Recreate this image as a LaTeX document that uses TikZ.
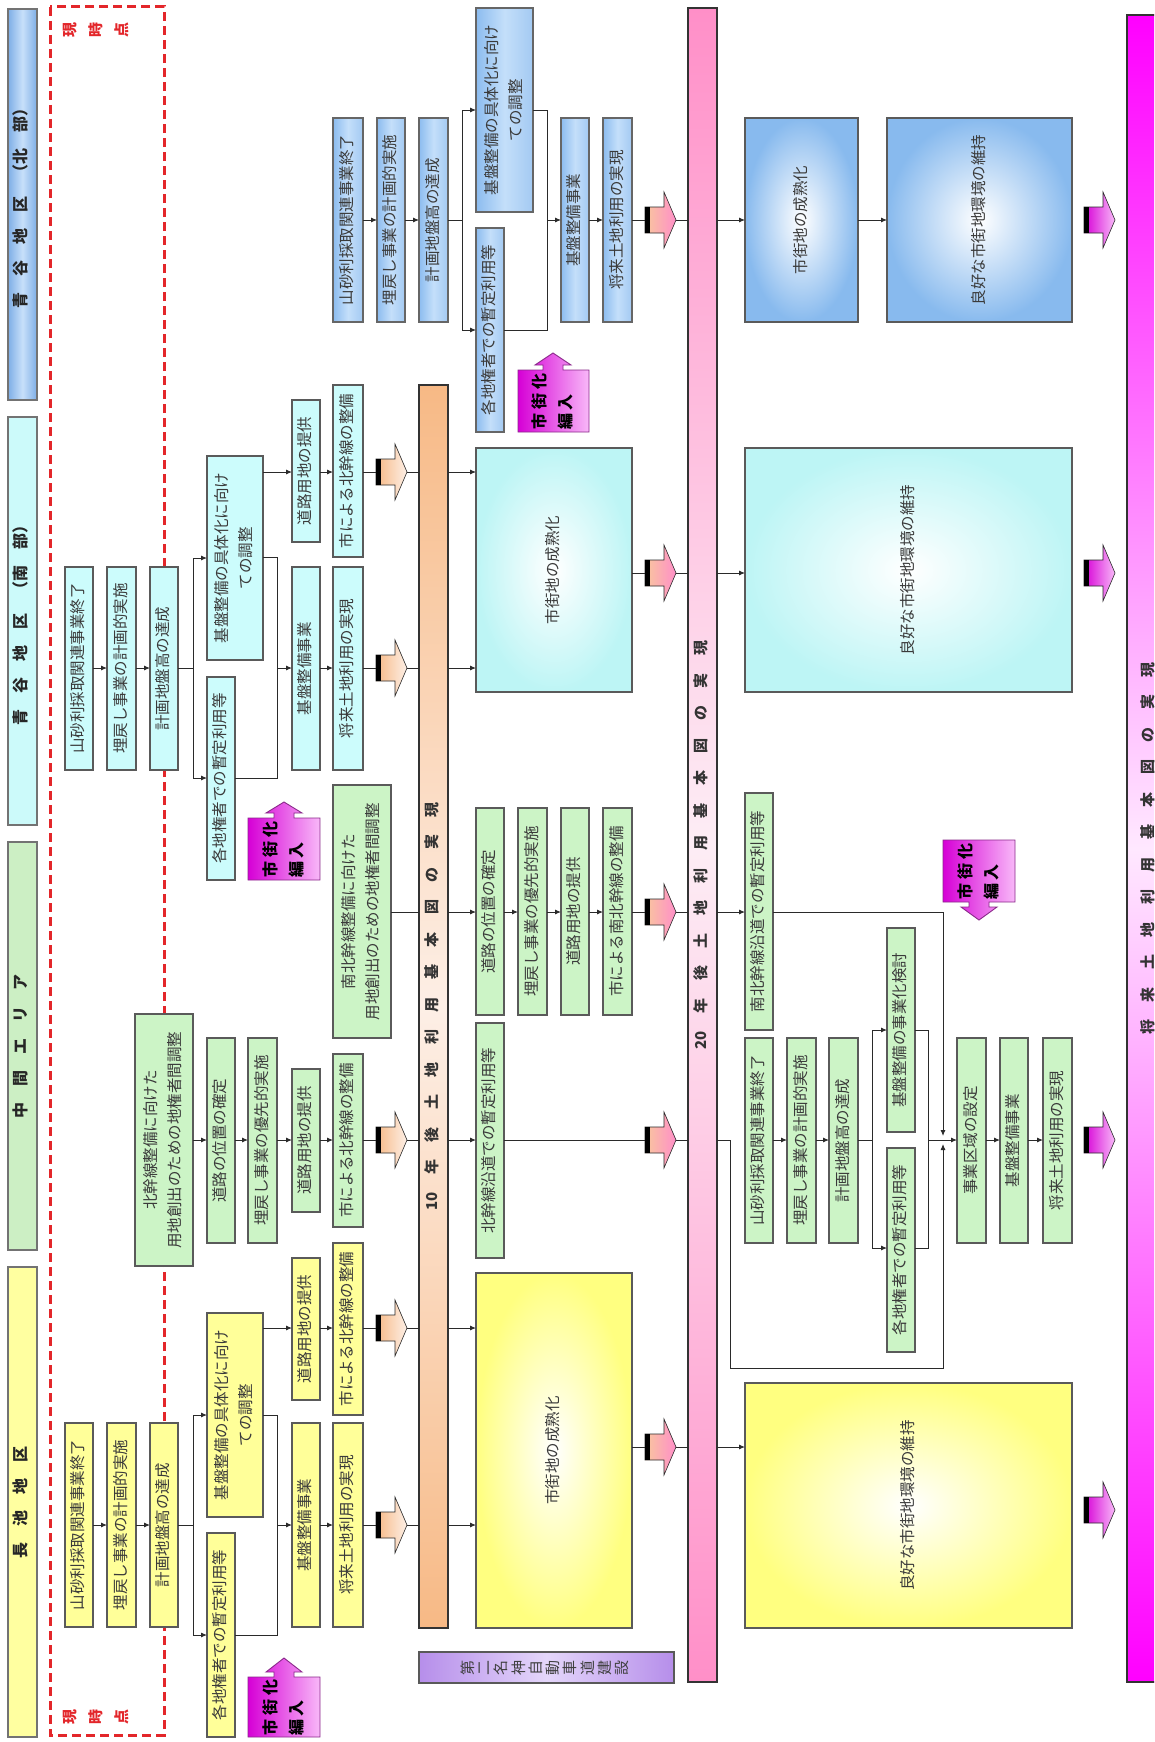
\documentclass[tikz,border=0pt]{standalone}
\usepackage{fontspec}
\setmainfont{Noto Sans CJK JP}
\usepackage{graphicx}
\usetikzlibrary{arrows.meta}

\definecolor{bdr}{HTML}{5A5A5A}
\definecolor{txt}{HTML}{3A3A3A}
\definecolor{lnC}{HTML}{2A2A2A}
\definecolor{bluD}{HTML}{8CBCEF}
\definecolor{bluM}{HTML}{C4DFFA}
\definecolor{bluBig}{HTML}{88BAEE}
\definecolor{cyaF}{HTML}{CCFCFC}
\definecolor{cyaBig}{HTML}{BDF5F5}
\definecolor{greF}{HTML}{CCF4C6}
\definecolor{yelF}{HTML}{FFFF99}
\definecolor{yelBig}{HTML}{FFFF80}
\definecolor{orgD}{HTML}{F7B985}
\definecolor{orgL}{HTML}{FDEFE6}
\definecolor{pnkD}{HTML}{FF8FC8}
\definecolor{pnkL}{HTML}{FDEDF5}
\definecolor{magD}{HTML}{FF00FF}
\definecolor{magL}{HTML}{FFE8FF}
\definecolor{purD}{HTML}{B68EEA}
\definecolor{purL}{HTML}{E4D6FA}
\definecolor{dred}{HTML}{E3262A}
\definecolor{calD}{HTML}{D600D6}
\definecolor{calL}{HTML}{F8B8F8}
\definecolor{calB}{HTML}{8A2A8A}
\definecolor{hbD}{HTML}{7EAEE6}
\definecolor{hbL}{HTML}{C8E0FA}
\definecolor{hcF}{HTML}{CCFAFA}
\definecolor{hgF}{HTML}{CCEFC4}
\definecolor{hyF}{HTML}{FFFFA0}

\newcommand\rtxt[1]{\rotatebox{90}{\begin{tabular}{@{}c@{}}#1\end{tabular}}}
\newcommand\rtxtl[1]{\rotatebox{90}{\begin{tabular}{@{}l@{}}#1\end{tabular}}}
\newcommand\hsp{\hspace{16pt}}
\newcommand\hsb{\hspace{17.5pt}}
\newcommand\bx[7]{%
 \pgfmathsetmacro\bxw{#5-#3}\pgfmathsetmacro\bxh{#6-#4}%
 \pgfmathsetmacro\bxcx{(#3+#5)/2}\pgfmathsetmacro\bxcy{(#4+#6)/2}%
 \node[#1,minimum width=\bxw pt,minimum height=\bxh pt] (#2) at (\bxcx,\bxcy) {#7};}
\newcommand\blk[4]{%
 \path[draw=lnC, line width=0.6pt, left color=#3, right color=#4] (#1,#2-13) -- ++(19,0) -- ++(0,-15) -- ++(12,28) -- ++(-12,28) -- ++(0,-15) -- ++(-19,0) -- cycle;
 \fill[black] (#1,#2-13) rectangle ++(5,26);}
\newcommand\callup[6]{%
 \path[draw=calB, line width=0.9pt, left color=calD, right color=calL] (#1,#4) -- (#1,#2) -- (#5-10,#2) -- (#5-10,#2-5) -- (#5-18,#2-5) -- (#5,#6) -- (#5+18,#2-5) -- (#5+10,#2-5) -- (#5+10,#2) -- (#3,#2) -- (#3,#4) -- cycle;}
\newcommand\calldn[6]{%
 \path[draw=calB, line width=0.9pt, left color=calD, right color=calL] (#1,#2) -- (#3,#2) -- (#3,#4) -- (#5+10,#4) -- (#5+10,#4+5) -- (#5+18,#4+5) -- (#5,#6) -- (#5-18,#4+5) -- (#5-10,#4+5) -- (#5-10,#4) -- (#1,#4) -- cycle;}

\begin{document}
\begin{tikzpicture}[x=1pt,y=-1pt,
  sb/.style={draw=bdr, line width=1.2pt, inner sep=0pt, outer sep=0pt, text=txt, font=\fontsize{15.5}{24}\selectfont},
  bb/.style={sb, draw=black!60, left color=bluD, right color=bluD!80!white, middle color=bluM},
  cb/.style={sb, fill=cyaF},
  gb/.style={sb, fill=greF},
  yb/.style={sb, fill=yelF},
  bbig/.style={sb, inner color=white, outer color=bluBig},
  cbig/.style={sb, inner color=white, outer color=cyaBig},
  ybig/.style={sb, inner color=white, outer color=yelBig},
  hdr/.style={draw=black!55, line width=2pt, inner sep=0pt, outer sep=0pt, text=black!85, font=\fontsize{16}{20}\selectfont\bfseries},
  bar/.style={draw=black!80, line width=1.4pt, inner sep=0pt, outer sep=0pt, text=black!80, font=\fontsize{15}{18}\selectfont\bfseries},
  cal/.style={inner sep=0pt, text=black, font=\fontsize{16}{26}\selectfont\bfseries},
  arr/.style={-{Latex[length=6pt,width=5pt]}, line width=0.9pt, draw=lnC},
  ln/.style={line width=0.9pt, draw=lnC}]
\useasboundingbox (0,0) rectangle (1154,1742);
\clip (0,0) rectangle (1154,1742);
\fill[white] (0,0) rectangle (1154,1742);

% current-time frame
\draw[dred, line width=3pt, dash pattern=on 9pt off 5pt] (50,7) rectangle (164,1735);
\node[font=\fontsize{15}{26}\selectfont\bfseries, text=dred] (now1) at (96,30) {\rtxt{現\\時\\点}};
\node[font=\fontsize{15}{26}\selectfont\bfseries, text=dred] (now2) at (96,1717) {\rtxt{現\\時\\点}};

% headers
\bx{hdr, left color=hbD, right color=hbD, middle color=hbL}{h1}{8}{9}{37}{400}{\rtxt{青\hsp 谷\hsp 地\hsp 区\hsp （北\hsp 部）}}
\bx{hdr, fill=hcF}{h2}{8}{417}{37}{825}{\rtxt{青\hsp 谷\hsp 地\hsp 区\hsp （南\hsp 部）}}
\bx{hdr, fill=hgF}{h3}{8}{842}{37}{1250}{\rtxt{中\hsp 間\hsp エ\hsp リ\hsp ア}}
\bx{hdr, fill=hyF}{h4}{8}{1267}{37}{1737}{\rtxt{長\hsp 池\hsp 地\hsp 区}}

% bars
\bx{bar, top color=orgD, bottom color=orgD, middle color=orgL}{bar10}{419}{385}{448}{1628}{\rtxt{10\hsb 年\hsb 後\hsb 土\hsb 地\hsb 利\hsb 用\hsb 基\hsb 本\hsb 図\hsb の\hsb 実\hsb 現}}
\bx{bar, top color=pnkD, bottom color=pnkD, middle color=pnkL}{bar20}{688}{8}{717}{1682}{\rtxt{20\hsb 年\hsb 後\hsb 土\hsb 地\hsb 利\hsb 用\hsb 基\hsb 本\hsb 図\hsb の\hsb 実\hsb 現}}
\bx{bar, top color=magD, bottom color=magD, middle color=magL}{barF}{1127}{15}{1172}{1682}{\rtxt{将\hsb 来\hsb 土\hsb 地\hsb 利\hsb 用\hsb 基\hsb 本\hsb 図\hsb の\hsb 実\hsb 現}}
\bx{sb, draw=black!65, left color=purD, right color=purD, middle color=purL, text=black!75, font=\fontsize{15}{15.8}\selectfont}{p1}{419}{1652}{674}{1683}{\rtxt{第\\二\\名\\神\\自\\動\\車\\道\\建\\設}}

% blue column
\bx{bb}{b1}{333}{118}{363}{322}{\rtxt{山砂利採取関連事業終了}}
\bx{bb}{b2}{377}{118}{405}{322}{\rtxt{埋戻し事業の計画的実施}}
\bx{bb}{b3}{419}{118}{448}{322}{\rtxt{計画地盤高の達成}}
\bx{bb}{b4}{476}{8}{533}{212}{\rtxt{基盤整備の具体化に向け\\ての調整}}
\bx{bb}{b5}{476}{228}{504}{432}{\rtxt{各地権者での暫定利用等}}
\bx{bb}{b6}{561}{118}{589}{322}{\rtxt{基盤整備事業}}
\bx{bb}{b7}{603}{118}{632}{322}{\rtxt{将来土地利用の実現}}
\bx{bbig}{b8}{745}{118}{858}{322}{\rtxt{市街地の成熟化}}
\bx{bbig}{b9}{887}{118}{1072}{322}{\rtxt{良好な市街地環境の維持}}

% cyan column
\bx{cb}{c1}{65}{567}{93}{770}{\rtxt{山砂利採取関連事業終了}}
\bx{cb}{c2}{107}{567}{136}{770}{\rtxt{埋戻し事業の計画的実施}}
\bx{cb}{c3}{150}{567}{178}{770}{\rtxt{計画地盤高の達成}}
\bx{cb}{c4}{207}{456}{263}{660}{\rtxt{基盤整備の具体化に向け\\ての調整}}
\bx{cb}{c5}{207}{677}{235}{880}{\rtxt{各地権者での暫定利用等}}
\bx{cb}{c6}{292}{400}{320}{542}{\rtxt{道路用地の提供}}
\bx{cb}{c7}{333}{385}{363}{557}{\rtxt{市による北幹線の整備}}
\bx{cb}{c8}{292}{567}{320}{770}{\rtxt{基盤整備事業}}
\bx{cb}{c9}{333}{567}{363}{770}{\rtxt{将来土地利用の実現}}
\bx{cbig}{c10}{476}{448}{632}{692}{\rtxt{市街地の成熟化}}
\bx{cbig}{c11}{745}{448}{1072}{692}{\rtxt{良好な市街地環境の維持}}

% green column
\bx{gb}{g1}{135}{1014}{193}{1266}{\rtxt{北幹線整備に向けた\\用地創出のための地権者間調整}}
\bx{gb}{g2}{207}{1038}{235}{1243}{\rtxt{道路の位置の確定}}
\bx{gb}{g3}{248}{1038}{277}{1243}{\rtxt{埋戻し事業の優先的実施}}
\bx{gb}{g4}{292}{1069}{320}{1212}{\rtxt{道路用地の提供}}
\bx{gb}{g5}{333}{1054}{363}{1227}{\rtxt{市による北幹線の整備}}
\bx{gb}{g6}{476}{1023}{504}{1258}{\rtxt{北幹線沿道での暫定利用等}}
\bx{gb}{g7}{333}{785}{391}{1038}{\rtxt{南北幹線整備に向けた\\用地創出のための地権者間調整}}
\bx{gb}{g8}{476}{808}{504}{1015}{\rtxt{道路の位置の確定}}
\bx{gb}{g9}{518}{808}{547}{1015}{\rtxt{埋戻し事業の優先的実施}}
\bx{gb}{g10}{561}{808}{589}{1015}{\rtxt{道路用地の提供}}
\bx{gb}{g11}{603}{808}{632}{1015}{\rtxt{市による南北幹線の整備}}
\bx{gb}{g12}{745}{793}{773}{1030}{\rtxt{南北幹線沿道での暫定利用等}}
\bx{gb}{g13}{745}{1038}{773}{1243}{\rtxt{山砂利採取関連事業終了}}
\bx{gb}{g14}{787}{1038}{816}{1243}{\rtxt{埋戻し事業の計画的実施}}
\bx{gb}{g15}{829}{1038}{858}{1243}{\rtxt{計画地盤高の達成}}
\bx{gb}{g16}{887}{928}{915}{1132}{\rtxt{基盤整備の事業化検討}}
\bx{gb}{g17}{887}{1148}{915}{1352}{\rtxt{各地権者での暫定利用等}}
\bx{gb}{g18}{957}{1038}{986}{1243}{\rtxt{事業区域の設定}}
\bx{gb}{g19}{1000}{1038}{1028}{1243}{\rtxt{基盤整備事業}}
\bx{gb}{g20}{1043}{1038}{1072}{1243}{\rtxt{将来土地利用の実現}}

% yellow column
\bx{yb}{y1}{65}{1423}{93}{1627}{\rtxt{山砂利採取関連事業終了}}
\bx{yb}{y2}{107}{1423}{136}{1627}{\rtxt{埋戻し事業の計画的実施}}
\bx{yb}{y3}{150}{1423}{178}{1627}{\rtxt{計画地盤高の達成}}
\bx{yb}{y4}{207}{1313}{263}{1517}{\rtxt{基盤整備の具体化に向け\\ての調整}}
\bx{yb}{y5}{207}{1533}{235}{1737}{\rtxt{各地権者での暫定利用等}}
\bx{yb}{y6}{292}{1258}{320}{1400}{\rtxt{道路用地の提供}}
\bx{yb}{y7}{333}{1243}{363}{1415}{\rtxt{市による北幹線の整備}}
\bx{yb}{y8}{292}{1423}{320}{1627}{\rtxt{基盤整備事業}}
\bx{yb}{y9}{333}{1423}{363}{1627}{\rtxt{将来土地利用の実現}}
\bx{ybig}{y10}{476}{1273}{632}{1628}{\rtxt{市街地の成熟化}}
\bx{ybig}{y11}{745}{1383}{1072}{1628}{\rtxt{良好な市街地環境の維持}}

% ---- connectors: blue
\draw[arr] (b1.east|-0,220) -- (b2.west|-0,220);
\draw[arr] (b2.east|-0,220) -- (b3.west|-0,220);
\draw[ln] (b3.east|-0,220) -- (462,220);
\draw[arr] (462,220) |- (b4.west|-0,110);
\draw[arr] (462,220) |- (b5.west|-0,330);
\draw[ln] (b4.east|-0,110) -| (547,220);
\draw[ln] (b5.east|-0,330) -| (547,220);
\draw[arr] (547,220) -- (b6.west|-0,220);
\draw[arr] (b6.east|-0,220) -- (b7.west|-0,220);
\draw[ln] (b7.east|-0,220) -- (bar20.west|-0,220);
\draw[arr] (bar20.east|-0,220) -- (b8.west|-0,220);
\draw[arr] (b8.east|-0,220) -- (b9.west|-0,220);

% cyan
\draw[arr] (c1.east|-0,668) -- (c2.west|-0,668);
\draw[arr] (c2.east|-0,668) -- (c3.west|-0,668);
\draw[ln] (c3.east|-0,668) -- (193,668);
\draw[arr] (193,668) |- (c4.west|-0,558);
\draw[arr] (193,668) |- (c5.west|-0,778);
\draw[arr] (c4.east|-0,472) -- (c6.west|-0,472);
\draw[arr] (c6.east|-0,472) -- (c7.west|-0,472);
\draw[ln] (c7.east|-0,472) -- (bar10.west|-0,472);
\draw[ln] (c4.east|-0,557) -| (277,668);
\draw[ln] (c5.east|-0,778) -| (277,668);
\draw[arr] (277,668) -- (c8.west|-0,668);
\draw[arr] (c8.east|-0,668) -- (c9.west|-0,668);
\draw[ln] (c9.east|-0,668) -- (bar10.west|-0,668);
\draw[arr] (bar10.east|-0,472) -- (c10.west|-0,472);
\draw[arr] (bar10.east|-0,668) -- (c10.west|-0,668);
\draw[ln] (c10.east|-0,573) -- (bar20.west|-0,573);
\draw[arr] (bar20.east|-0,573) -- (c11.west|-0,573);

% green
\draw[arr] (g1.east|-0,1140) -- (g2.west|-0,1140);
\draw[arr] (g2.east|-0,1140) -- (g3.west|-0,1140);
\draw[arr] (g3.east|-0,1140) -- (g4.west|-0,1140);
\draw[arr] (g4.east|-0,1140) -- (g5.west|-0,1140);
\draw[ln] (g5.east|-0,1140) -- (bar10.west|-0,1140);
\draw[arr] (bar10.east|-0,1140) -- (g6.west|-0,1140);
\draw[ln] (g6.east|-0,1140) -- (bar20.west|-0,1140);
\draw[arr] (bar20.east|-0,1140) -| (730,1368) -| (943,1144);
\draw[ln] (g7.east|-0,912) -- (bar10.west|-0,912);
\draw[arr] (bar10.east|-0,912) -- (g8.west|-0,912);
\draw[arr] (g8.east|-0,912) -- (g9.west|-0,912);
\draw[arr] (g9.east|-0,912) -- (g10.west|-0,912);
\draw[arr] (g10.east|-0,912) -- (g11.west|-0,912);
\draw[ln] (g11.east|-0,912) -- (bar20.west|-0,912);
\draw[arr] (bar20.east|-0,912) -- (g12.west|-0,912);
\draw[arr] (g12.east|-0,912) -| (943,1136);
\draw[arr] (g13.east|-0,1140) -- (g14.west|-0,1140);
\draw[arr] (g14.east|-0,1140) -- (g15.west|-0,1140);
\draw[ln] (g15.east|-0,1140) -- (872,1140);
\draw[arr] (872,1140) |- (g16.west|-0,1030);
\draw[arr] (872,1140) |- (g17.west|-0,1248);
\draw[ln] (g16.east|-0,1030) -| (928,1140);
\draw[ln] (g17.east|-0,1248) -| (928,1140);
\draw[arr] (928,1140) -- (g18.west|-0,1140);
\draw[arr] (g18.east|-0,1140) -- (g19.west|-0,1140);
\draw[arr] (g19.east|-0,1140) -- (g20.west|-0,1140);

% yellow
\draw[arr] (y1.east|-0,1525) -- (y2.west|-0,1525);
\draw[arr] (y2.east|-0,1525) -- (y3.west|-0,1525);
\draw[ln] (y3.east|-0,1525) -- (193,1525);
\draw[arr] (193,1525) |- (y4.west|-0,1415);
\draw[arr] (193,1525) |- (y5.west|-0,1635);
\draw[arr] (y4.east|-0,1328) -- (y6.west|-0,1328);
\draw[arr] (y6.east|-0,1328) -- (y7.west|-0,1328);
\draw[ln] (y7.east|-0,1328) -- (bar10.west|-0,1328);
\draw[ln] (y4.east|-0,1415) -| (277,1525);
\draw[ln] (y5.east|-0,1635) -| (277,1525);
\draw[arr] (277,1525) -- (y8.west|-0,1525);
\draw[arr] (y8.east|-0,1525) -- (y9.west|-0,1525);
\draw[ln] (y9.east|-0,1525) -- (bar10.west|-0,1525);
\draw[arr] (bar10.east|-0,1328) -- (y10.west|-0,1328);
\draw[arr] (bar10.east|-0,1525) -- (y10.west|-0,1525);
\draw[ln] (y10.east|-0,1447) -- (bar20.west|-0,1447);
\draw[arr] (bar20.east|-0,1447) -- (y11.west|-0,1447);

% thick block arrows
\foreach \yy in {472,668,1140,1328,1525}{\blk{376}{\yy}{orgD}{orgL}}
\foreach \yy in {220,573,912,1140,1447}{\blk{645}{\yy}{orgD!80!white}{pnkD}}
\foreach \yy in {220,573,1140,1510}{\blk{1084}{\yy}{calD}{calL}}

% 市街化編入 callouts
\callup{518}{370}{589}{432}{553}{353}
\node[cal] (k1) at (553,401) {\rtxtl{市\kern4pt 街\kern4pt 化\\編\kern3pt 入}};
\callup{248}{818}{320}{880}{284}{802}
\node[cal] (k2) at (284,849) {\rtxtl{市\kern4pt 街\kern4pt 化\\編\kern3pt 入}};
\callup{248}{1677}{320}{1737}{284}{1658}
\node[cal] (k3) at (284,1707) {\rtxtl{市\kern4pt 街\kern4pt 化\\編\kern3pt 入}};
\calldn{943}{840}{1015}{902}{979}{920}
\node[cal] (k4) at (979,871) {\rtxtl{市\kern4pt 街\kern4pt 化\\編\kern3pt 入}};
\end{tikzpicture}
\end{document}
